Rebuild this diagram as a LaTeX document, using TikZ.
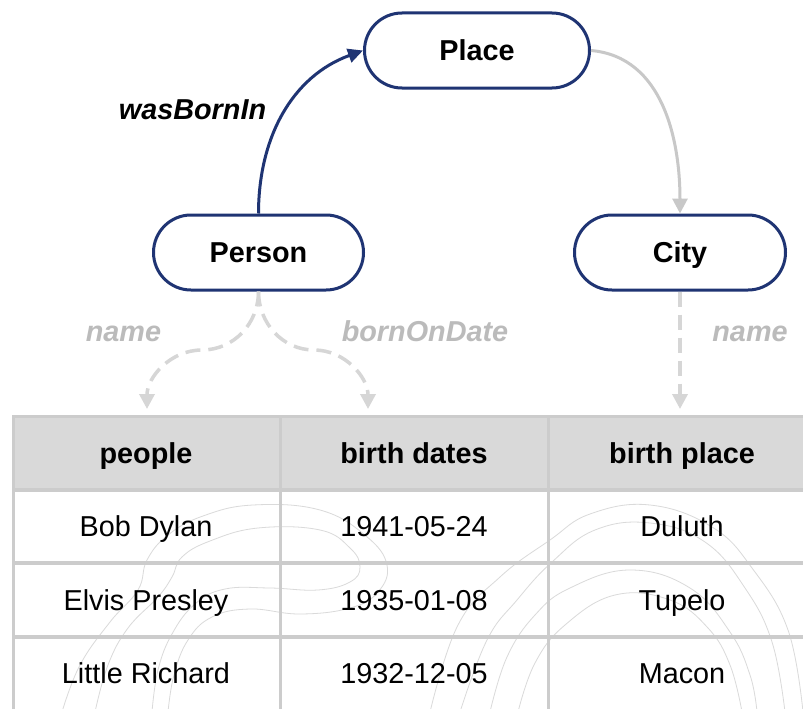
\documentclass[tikz,border=0pt]{standalone}
\usepackage{fontspec}
\setmainfont{Liberation Sans}
\usetikzlibrary{arrows.meta,shapes.misc}
\definecolor{navy}{HTML}{1F3473}
\definecolor{solidgray}{HTML}{C8C8C8}
\definecolor{dashgray}{HTML}{D6D6D6}
\definecolor{hdrfill}{HTML}{D9D9D9}
\definecolor{gridgray}{HTML}{CCCCCC}
\definecolor{lblgray}{HTML}{BBBBBB}
\definecolor{wmgray}{HTML}{DADADA}
\begin{document}
\begin{tikzpicture}[x=1pt,y=1pt,
  cls/.style={rounded rectangle, draw=navy, line width=3pt, fill=white,
    minimum height=75pt, inner sep=0pt, text height=20.6pt, text depth=0pt,
    font=\fontsize{28.8}{34}\selectfont\bfseries},
  lbl/.style={inner sep=0pt, text height=20.6pt, text depth=0pt, text=lblgray,
    font=\fontsize{28.8}{34}\selectfont\bfseries\itshape},
  rel/.style={inner sep=0pt, text height=20.6pt, text depth=0pt, text=black,
    font=\fontsize{28.8}{34}\selectfont\bfseries\itshape},
  hd/.style={inner sep=0pt, text height=20.6pt, text depth=0pt,
    font=\fontsize{28.8}{34}\selectfont\bfseries},
  cell/.style={inner sep=0pt, text height=20.6pt, text depth=0pt,
    font=\fontsize{28.8}{34}\selectfont},
  navyarrow/.style={draw=navy, line width=3pt, -{Triangle[length=15pt,width=14pt]}},
  grayarrow/.style={draw=solidgray, line width=3pt, -{Triangle[length=15pt,width=15pt]}},
  dasharrow/.style={draw=dashgray, line width=3.5pt, dash pattern=on 15pt off 8pt,
    -{Triangle[length=15pt,width=15pt]}},
  gridline/.style={draw=gridgray, line width=3.5pt},
  wm/.style={draw=wmgray, line width=0.8pt}
]
% canvas
\fill[white] (0,0) rectangle (803,-709);
\useasboundingbox (0,0) rectangle (803,-709);

% ---------- table ----------
\fill[hdrfill] (12,-415) rectangle (830,-490);
\begin{scope}
  \clip (14,-490) rectangle (803,-709);
  \draw[wm] plot[smooth, tension=0.7] coordinates {(430,-712) (458,-625) (500,-577) (550,-540) (590,-514) (650,-505) (712,-527) (752,-568) (788,-630) (803,-712)};
  \draw[wm] plot[smooth, tension=0.7] coordinates {(460,-712) (487,-640) (517,-600) (552,-562) (595,-530) (650,-523) (705,-542) (745,-588) (772,-642) (785,-712)};
  \draw[wm] plot[smooth, tension=0.7] coordinates {(490,-712) (507,-657) (535,-615) (570,-588) (630,-570) (690,-588) (730,-632) (750,-675) (757,-712)};
  \draw[wm] plot[smooth, tension=0.7] coordinates {(518,-712) (535,-663) (565,-625) (615,-595) (670,-600) (708,-628) (730,-665) (742,-712)};
  \draw[wm] plot[smooth, tension=0.7] coordinates {(62,-712) (80,-665) (110,-622) (138,-590) (147,-560) (168,-535) (203,-516) (253,-505) (320,-510) (366,-536) (387,-565) (378,-592) (350,-608) (300,-614) (250,-609) (212,-617) (188,-640) (174,-675) (168,-712)};
  \draw[wm] plot[smooth, tension=0.7] coordinates {(95,-712) (108,-665) (128,-628) (158,-597) (172,-577) (182,-557) (210,-541) (258,-528) (320,-530) (350,-548) (360,-567) (350,-582) (318,-590) (270,-588) (225,-589) (195,-604) (172,-634) (158,-670) (152,-712)};
\end{scope}
\draw[gridline] (12,-416.5) -- (830,-416.5);
\draw[gridline] (12,-490) -- (830,-490);
\draw[gridline] (12,-563) -- (830,-563);
\draw[gridline] (12,-637) -- (830,-637);
\draw[gridline] (13.5,-415) -- (13.5,-715);
\draw[gridline] (280.5,-415) -- (280.5,-715);
\draw[gridline] (548.5,-415) -- (548.5,-715);

\node[hd] (hpeople) at (146,-453) {people};
\node[hd] (hdates) at (414,-453) {birth dates};
\node[hd] (hplace) at (682,-453) {birth place};
\node[cell] (p1) at (146,-526.5) {Bob Dylan};
\node[cell] (d1) at (414,-526.5) {1941-05-24};
\node[cell] (c1) at (682,-526.5) {Duluth};
\node[cell] (p2) at (146,-600) {Elvis Presley};
\node[cell] (d2) at (414,-600) {1935-01-08};
\node[cell] (c2) at (682,-600) {Tupelo};
\node[cell] (p3) at (146,-673) {Little Richard};
\node[cell] (d3) at (414,-673) {1932-12-05};
\node[cell] (c3) at (682,-673) {Macon};

% ---------- graph ----------
\node[cls, minimum width=225pt] (place) at (477,-50.5) {Place};
\node[cls, minimum width=210pt] (person) at (258.5,-252.5) {Person};
\node[cls, minimum width=211pt] (city) at (680,-252.5) {City};

\node[rel] (wbi) at (192.5,-109.5) {wasBornIn};
\node[lbl] (lname) at (123.5,-331) {name};
\node[lbl] (lborn) at (425,-331) {bornOnDate};
\node[lbl] (cname) at (750,-331) {name};

\coordinate (tpeople) at (147,-409);
\coordinate (tdates) at (368,-409);
\coordinate (tplace) at (680,-409);
\coordinate (midL) at (202,-350);
\coordinate (midR) at (314,-350);

\draw[navyarrow] (person.north) to[out=90,in=200] (place.west);
\draw[grayarrow] (place.east) to[out=-5,in=90] (city.north);
\draw[dasharrow] (person.south) to[out=-90,in=0] (midL) to[out=180,in=90] (tpeople);
\draw[dasharrow] (person.south) to[out=-90,in=180] (midR) to[out=0,in=90] (tdates);
\draw[dasharrow] (city.south) -- (tplace);
\end{tikzpicture}
\end{document}
